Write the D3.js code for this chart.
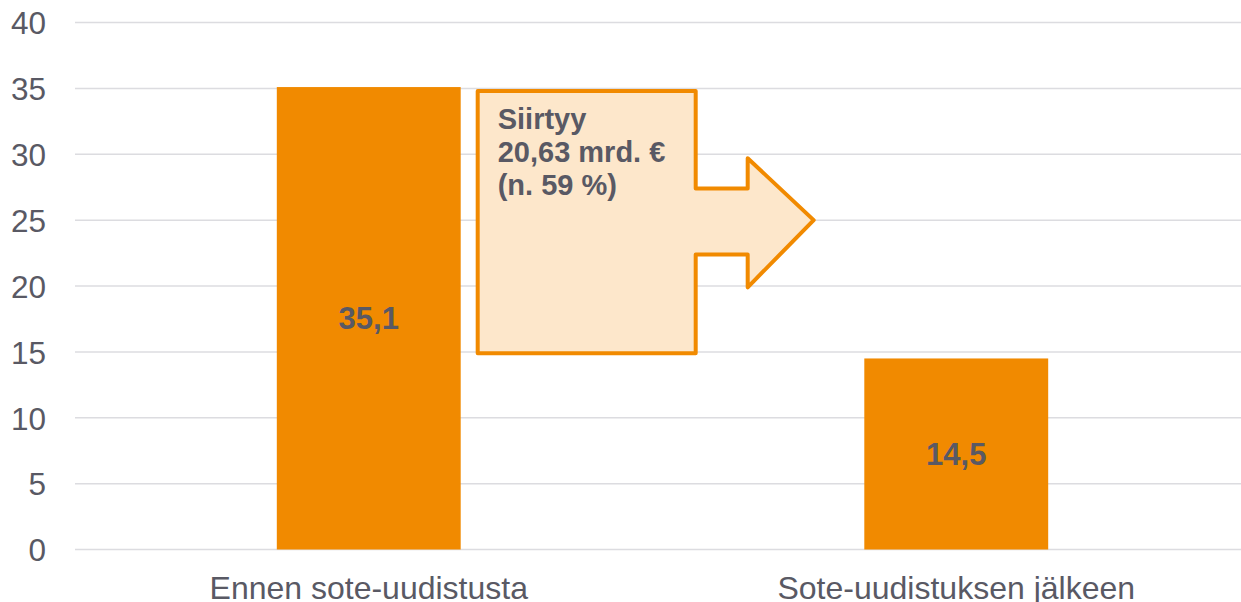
<!DOCTYPE html>
<html>
<head>
<meta charset="utf-8">
<script src="https://cdn.jsdelivr.net/npm/d3@7"></script>
<style>
  html, body { margin: 0; padding: 0; background: #fff; }
  svg { display: block; }
</style>
</head>
<body>
<svg id="chart" width="1241" height="602"></svg>
<script>
// ---- data ----
const categories = ["Ennen sote-uudistusta", "Sote-uudistuksen jälkeen"];
const values = [35.1, 14.5];
const valueLabels = ["35,1", "14,5"];
const yTicks = [0, 5, 10, 15, 20, 25, 30, 35, 40];
const calloutLines = ["Siirtyy", "20,63 mrd. €", "(n. 59 %)"];
// callout arrow shape in data units (y)
const calloutY = { bodyTop: 34.8, bodyBottom: 14.9, shaftTop: 27.4, shaftBottom: 22.4, headTop: 29.7, headBottom: 19.9, tip: 25 };

// ---- layout ----
const W = 1241, H = 602;
const margin = { left: 75, right: -9, top: 22.5, bottom: 52.5 };
const orange = "#F18A00";
const textColor = "#595964";
const font = "'Liberation Sans', Arial, sans-serif";

const svg = d3.select("#chart");

const x = d3.scaleBand()
  .domain(categories)
  .range([margin.left, W - margin.right])
  .paddingInner(0.687)
  .paddingOuter(0.3435);

const y = d3.scaleLinear()
  .domain([0, 40])
  .range([H - margin.bottom, margin.top]);

// gridlines
svg.append("g")
  .selectAll("line")
  .data(yTicks)
  .join("line")
  .attr("x1", margin.left)
  .attr("x2", W)
  .attr("y1", d => y(d))
  .attr("y2", d => y(d))
  .attr("stroke", "#dcdce0")
  .attr("stroke-width", 1.5);

// y axis labels
const yAxis = d3.axisLeft(y).tickValues(yTicks).tickSize(0).tickPadding(0).tickFormat(d3.format("d"));
const gy = svg.append("g").attr("transform", `translate(46,0)`).call(yAxis);
gy.select(".domain").remove();
gy.selectAll("text")
  .attr("fill", textColor)
  .style("font-family", font)
  .style("font-size", "31.5px")
  .attr("dy", "0.36em");

// bars
svg.append("g")
  .selectAll("rect")
  .data(values)
  .join("rect")
  .attr("x", (d, i) => x(categories[i]))
  .attr("width", x.bandwidth())
  .attr("y", d => y(d))
  .attr("height", d => y(0) - y(d))
  .attr("fill", orange);

// value labels
svg.append("g")
  .selectAll("text")
  .data(values)
  .join("text")
  .attr("x", (d, i) => x(categories[i]) + x.bandwidth() / 2)
  .attr("y", d => (y(d) + y(0)) / 2)
  .attr("dy", "0.36em")
  .attr("text-anchor", "middle")
  .attr("fill", textColor)
  .style("font-family", font)
  .style("font-weight", "bold")
  .style("font-size", "31px")
  .text((d, i) => valueLabels[i]);

// category labels
const xAxis = d3.axisBottom(x).tickSize(0).tickPadding(0);
const gx = svg.append("g").attr("transform", `translate(0,${y(0)})`).call(xAxis);
gx.select(".domain").remove();
gx.selectAll("text")
  .attr("fill", textColor)
  .attr("y", 49)
  .attr("dy", 0)
  .style("font-family", font)
  .style("font-size", "32px");

// callout arrow
const b0 = x(categories[0]) + x.bandwidth();
const bodyL = b0 + 17, bodyR = b0 + 235, headX = b0 + 287, tipX = b0 + 353;
const pts = [
  [bodyL, y(calloutY.bodyTop)],
  [bodyR, y(calloutY.bodyTop)],
  [bodyR, y(calloutY.shaftTop)],
  [headX, y(calloutY.shaftTop)],
  [headX, y(calloutY.headTop)],
  [tipX, y(calloutY.tip)],
  [headX, y(calloutY.headBottom)],
  [headX, y(calloutY.shaftBottom)],
  [bodyR, y(calloutY.shaftBottom)],
  [bodyR, y(calloutY.bodyBottom)],
  [bodyL, y(calloutY.bodyBottom)]
];
svg.append("path")
  .attr("d", d3.line()(pts) + "Z")
  .attr("fill", "#FDE7CB")
  .attr("stroke", orange)
  .attr("stroke-width", 4)
  .attr("stroke-linejoin", "round");

svg.append("g")
  .selectAll("text")
  .data(calloutLines)
  .join("text")
  .attr("x", bodyL + 20)
  .attr("y", (d, i) => y(calloutY.bodyTop) + 38 + i * 33)
  .attr("fill", textColor)
  .style("font-family", font)
  .style("font-weight", "bold")
  .style("font-size", "29px")
  .text(d => d);
</script>
</body>
</html>
